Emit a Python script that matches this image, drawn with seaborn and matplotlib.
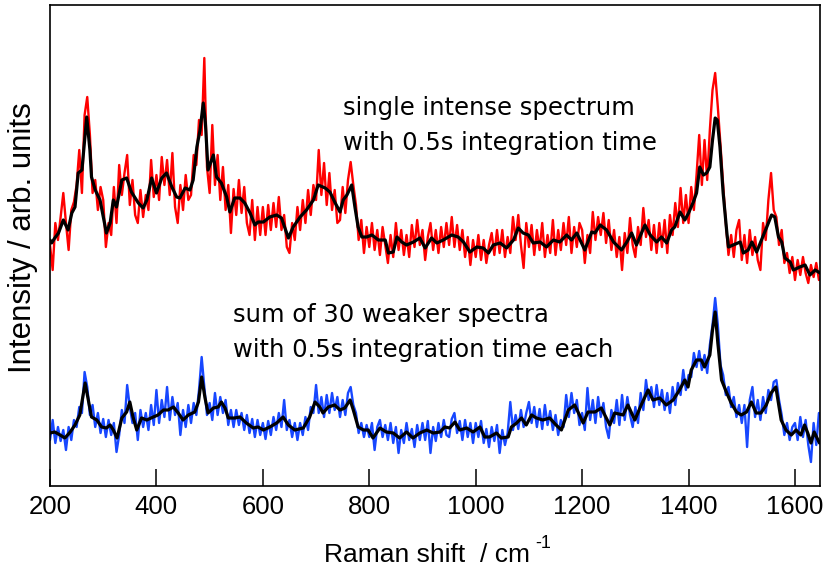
import numpy as np
import matplotlib
matplotlib.use("Agg")
import matplotlib.pyplot as plt
import seaborn as sns

# ---------------- data ----------------
# noisy spectra sampled every 5 cm-1 from 200 to 1645 cm-1
shift = np.arange(200, 1650, 5)

red_raw = [
    240, 215, 262, 245, 268, 292, 262, 235, 275, 283,
    300, 335, 292, 370, 388, 350, 292, 305, 275, 298,
    285, 238, 262, 250, 298, 262, 320, 290, 312, 330,
    280, 305, 270, 262, 295, 268, 290, 275, 325, 288,
    310, 285, 328, 300, 325, 290, 332, 278, 262, 300,
    275, 310, 285, 290, 330, 320, 365, 350, 427, 318,
    292, 360, 300, 330, 285, 318, 275, 300, 252, 296,
    270, 305, 272, 298, 262, 250, 285, 245, 278, 250,
    278, 250, 280, 255, 282, 258, 288, 255, 270, 238,
    232, 262, 245, 278, 255, 285, 262, 295, 270, 300,
    285, 335, 290, 322, 280, 312, 275, 295, 262, 265,
    298, 272, 305, 323, 300, 280, 245, 265, 232, 258,
    238, 262, 235, 255, 230, 258, 240, 222, 250, 228,
    262, 235, 255, 230, 250, 228, 260, 238, 265, 240,
    255, 225, 248, 262, 235, 255, 232, 258, 238, 262,
    240, 268, 238, 260, 235, 255, 228, 248, 220, 245,
    228, 250, 225, 245, 222, 240, 252, 230, 255, 232,
    255, 228, 248, 232, 268, 245, 270, 240, 217, 262,
    238, 260, 230, 255, 235, 262, 228, 250, 232, 265,
    230, 255, 235, 262, 240, 268, 232, 258, 238, 262,
    255, 222, 250, 232, 273, 245, 268, 250, 272, 242,
    265, 235, 255, 228, 248, 215, 252, 232, 267, 240,
    228, 258, 240, 277, 248, 265, 235, 260, 232, 262,
    238, 265, 232, 270, 250, 282, 258, 297, 262, 290,
    262, 298, 275, 310, 350, 300, 345, 305, 355, 395,
    412, 378, 340, 300, 262, 230, 250, 228, 255, 265,
    225, 250, 222, 255, 230, 248, 225, 215, 262, 245,
    285, 312, 275, 268, 240, 255, 222, 232, 212, 228,
    205, 225, 210, 228, 212, 202, 220, 208, 222, 205,
]

blue_raw = [
    45, 65, 42, 58, 44, 55, 35, 58, 45, 65,
    58, 78, 72, 113, 98, 70, 80, 58, 72, 52,
    66, 48, 65, 50, 62, 33, 50, 75, 62, 100,
    78, 62, 72, 45, 75, 58, 72, 55, 80, 60,
    95, 62, 85, 68, 98, 65, 88, 70, 82, 50,
    75, 58, 80, 62, 82, 70, 95, 128, 98, 70,
    82, 65, 92, 70, 88, 72, 85, 60, 75, 58,
    75, 60, 72, 55, 70, 52, 66, 48, 65, 50,
    62, 46, 64, 50, 68, 55, 72, 58, 85, 55,
    65, 48, 62, 45, 62, 50, 68, 55, 78, 72,
    100, 72, 88, 68, 90, 72, 92, 75, 88, 68,
    85, 70, 92, 98, 80, 72, 52, 62, 48, 60,
    48, 62, 35, 58, 65, 48, 60, 45, 62, 42,
    58, 32, 55, 42, 62, 45, 56, 38, 60, 45,
    62, 45, 64, 32, 58, 44, 62, 48, 65, 50,
    48, 66, 72, 52, 64, 45, 65, 48, 62, 42,
    62, 48, 64, 42, 56, 38, 58, 44, 60, 32,
    55, 40, 52, 83, 55, 70, 56, 75, 58, 72,
    83, 62, 78, 58, 76, 56, 80, 60, 74, 55,
    70, 50, 65, 58, 90, 68, 92, 72, 85, 60,
    72, 55, 97, 65, 85, 62, 88, 68, 82, 58,
    47, 75, 62, 85, 60, 90, 65, 88, 70, 58,
    78, 62, 92, 75, 105, 85, 98, 78, 100, 80,
    95, 75, 92, 72, 98, 80, 102, 90, 115, 95,
    110, 108, 132, 118, 134, 115, 130, 112, 140, 160,
    187, 160, 120, 110, 90, 98, 78, 88, 68, 80,
    62, 80, 38, 85, 98, 68, 85, 65, 88, 72,
    95, 85, 103, 105, 85, 70, 50, 62, 45, 58,
    62, 45, 68, 48, 65, 40, 23, 62, 40, 72,
]

# smoothed (black) curves
red_smooth_x = [
    200, 203, 209, 216, 225, 234, 241, 247, 253, 260,
    269, 275, 278, 285, 294, 306, 313, 319, 325, 335,
    344, 353, 366, 375, 382, 391, 400, 410, 419, 429,
    438, 444, 454, 463, 469, 476, 482, 488, 492, 497,
    507, 513, 522, 532, 538, 547, 557, 566, 576, 585,
    591, 601, 613, 626, 635, 648, 657, 670, 682, 695,
    704, 717, 726, 736, 745, 751, 758, 767, 773, 779,
    786, 795, 805, 817, 830, 836, 845, 852, 861, 870,
    883, 895, 905, 917, 927, 939, 955, 967, 977, 989,
    1002, 1014, 1024, 1033, 1046, 1058, 1071, 1080, 1089, 1099,
    1108, 1121, 1133, 1146, 1158, 1171, 1180, 1190, 1205, 1218,
    1224, 1234, 1246, 1259, 1274, 1284, 1293, 1302, 1318, 1328,
    1340, 1349, 1359, 1368, 1374, 1384, 1393, 1400, 1409, 1415,
    1421, 1428, 1434, 1440, 1445, 1450, 1454, 1459, 1465, 1472,
    1475, 1484, 1497, 1503, 1512, 1519, 1528, 1537, 1547, 1556,
    1562, 1569, 1575, 1581, 1591, 1597, 1609, 1619, 1628, 1638,
    1647,
]
red_smooth_y = [
    245, 242, 247, 252, 265, 255, 272, 278, 312, 315,
    368, 335, 308, 295, 285, 252, 262, 285, 278, 305,
    307, 293, 282, 277, 285, 307, 292, 307, 312, 298,
    288, 287, 297, 295, 305, 338, 355, 382, 362, 315,
    330, 308, 302, 288, 273, 287, 287, 282, 272, 260,
    263, 263, 268, 270, 267, 247, 258, 268, 275, 285,
    300, 297, 293, 282, 273, 285, 290, 300, 278, 258,
    248, 248, 250, 245, 245, 232, 233, 248, 243, 240,
    243, 247, 237, 247, 242, 245, 250, 248, 243, 233,
    238, 237, 232, 240, 242, 237, 245, 257, 252, 250,
    242, 243, 238, 245, 243, 250, 245, 252, 235, 253,
    252, 260, 255, 243, 235, 243, 252, 240, 260, 250,
    243, 248, 242, 255, 258, 273, 265, 272, 283, 292,
    318, 310, 312, 318, 345, 367, 365, 338, 292, 252,
    238, 240, 243, 232, 235, 243, 233, 245, 258, 270,
    268, 248, 243, 227, 223, 215, 218, 220, 210, 215,
    212,
]

blue_smooth_x = [
    200, 209, 219, 228, 238, 247, 256, 266, 272, 278,
    288, 297, 306, 313, 319, 326, 335, 344, 350, 356,
    363, 372, 382, 394, 403, 413, 422, 432, 441, 450,
    460, 472, 479, 485, 491, 497, 507, 516, 522, 529,
    535, 547, 557, 569, 582, 591, 601, 613, 626, 638,
    648, 660, 676, 688, 698, 707, 713, 723, 735, 745,
    754, 764, 770, 779, 789, 798, 807, 820, 832, 845,
    857, 870, 882, 895, 908, 920, 933, 942, 951, 961,
    970, 983, 995, 1008, 1017, 1026, 1039, 1048, 1061, 1067,
    1077, 1086, 1095, 1105, 1114, 1126, 1139, 1151, 1161, 1174,
    1186, 1202, 1211, 1224, 1236, 1252, 1261, 1277, 1286, 1299,
    1311, 1324, 1333, 1346, 1358, 1371, 1383, 1393, 1399, 1405,
    1415, 1424, 1430, 1440, 1445, 1450, 1455, 1462, 1471, 1480,
    1490, 1499, 1509, 1518, 1527, 1536, 1546, 1555, 1564, 1574,
    1583, 1593, 1602, 1611, 1618, 1624, 1630, 1636, 1646,
]
blue_smooth_y = [
    52, 53, 50, 47, 53, 60, 70, 102, 85, 68,
    65, 58, 57, 60, 55, 47, 67, 73, 83, 68,
    55, 67, 65, 68, 70, 75, 75, 78, 72, 65,
    70, 73, 83, 108, 88, 72, 77, 78, 83, 77,
    67, 67, 68, 62, 57, 58, 55, 58, 62, 68,
    60, 55, 57, 68, 83, 78, 72, 78, 80, 75,
    77, 85, 75, 58, 55, 55, 47, 57, 53, 52,
    47, 53, 47, 52, 55, 52, 53, 58, 57, 63,
    55, 57, 53, 58, 48, 48, 52, 47, 48, 58,
    62, 67, 60, 70, 67, 65, 67, 60, 55, 75,
    80, 62, 73, 73, 77, 60, 72, 70, 80, 65,
    80, 95, 85, 87, 80, 85, 95, 105, 98, 115,
    125, 125, 118, 130, 155, 173, 142, 105, 93, 82,
    73, 70, 73, 83, 72, 72, 80, 92, 98, 65,
    55, 50, 55, 50, 60, 52, 42, 53, 42,
]

x_ticks = [200, 400, 600, 800, 1000, 1200, 1400, 1600]
annot_top = ["single intense spectrum", "with 0.5s integration time"]
annot_bottom = ["sum of 30 weaker spectra", "with 0.5s integration time each"]

# ---------------- style ----------------
sns.set_style("white")
plt.rcParams["font.family"] = ["Liberation Sans", "DejaVu Sans"]

W, H = 826, 570
fig = plt.figure(figsize=(W / 100, H / 100), dpi=100)
L, R, T, B = 50, 820, 5, 485.5
ax = fig.add_axes([L / W, 1 - B / H, (R - L) / W, (B - T) / H])

red_c = "#ff0000"
blue_c = "#1747ff"

sns.lineplot(x=shift, y=red_raw, ax=ax, color=red_c, linewidth=1.7,
             estimator=None, sort=False)
sns.lineplot(x=red_smooth_x, y=red_smooth_y, ax=ax, color="black",
             linewidth=2.3, estimator=None, sort=False)
sns.lineplot(x=shift, y=blue_raw, ax=ax, color=blue_c, linewidth=1.7,
             estimator=None, sort=False)
sns.lineplot(x=blue_smooth_x, y=blue_smooth_y, ax=ax, color="black",
             linewidth=2.3, estimator=None, sort=False)

ax.set_xlim(200, 1647)
ax.set_ylim(-0.5, 480)
ax.set_xticks(x_ticks)
ax.set_xticklabels([str(t) for t in x_ticks])
ax.set_yticks([])
ax.tick_params(axis="x", direction="in", length=12, width=1.1,
               color="black", labelsize=18.5, pad=7, top=False,
               bottom=True, labelcolor="black")
for s in ax.spines.values():
    s.set_visible(True)
    s.set_color("black")
    s.set_linewidth(1.2)

# x label with a raised "-1" written as a separate small text
ax.set_xlabel("Raman shift  / cm", fontsize=19, color="black")
ax.xaxis.set_label_coords((427 - L) / (R - L), -(543 - B) / (B - T))
fig.text(535 / W, 1 - 548 / H, "-1", fontsize=13, color="black",
         ha="left", va="baseline")

ax.set_ylabel("Intensity / arb. units", fontsize=22.5, color="black")
ax.yaxis.label.set_va("center")
ax.yaxis.set_label_coords(-(L - 23) / (R - L), (B - 238) / (B - T))

for txt, (px, py) in zip(annot_top, [(343, 115), (343, 150)]):
    fig.text(px / W, 1 - py / H, txt, fontsize=17.5, family="DejaVu Sans",
             va="baseline", ha="left", color="black")
for txt, (px, py) in zip(annot_bottom, [(233, 321.7), (233, 356.7)]):
    fig.text(px / W, 1 - py / H, txt, fontsize=17.5, family="DejaVu Sans",
             va="baseline", ha="left", color="black")

fig.savefig("out.png", dpi=100)
